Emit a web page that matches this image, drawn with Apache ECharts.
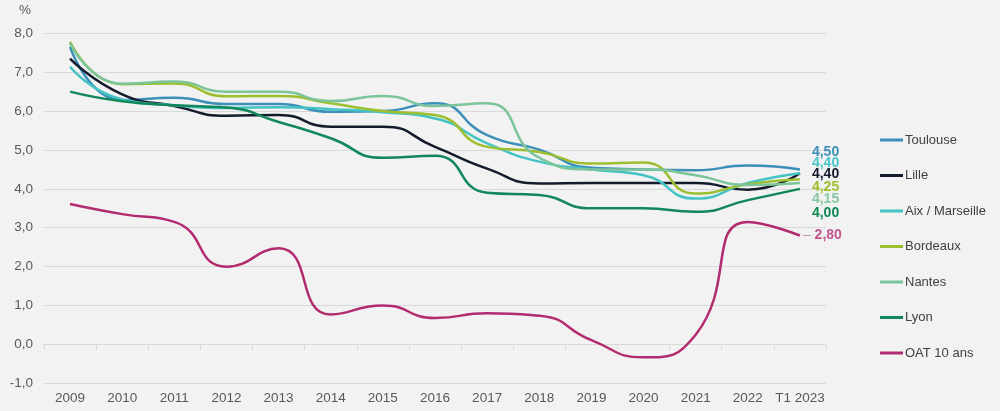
<!DOCTYPE html>
<html>
<head>
<meta charset="utf-8">
<script src="https://cdn.jsdelivr.net/npm/echarts@6/dist/echarts.min.js"></script>
<style>
  html, body { margin: 0; padding: 0; background: #f2f2f2; }
  #chart { width: 1000px; height: 411px; }
</style>
</head>
<body>
<div id="chart"></div>
<script>
const categories = ['2009','2010','2011','2012','2013','2014','2015','2016','2017','2018','2019','2020','2021','2022','T1 2023'];
const yTicks = { min: -1, max: 8, interval: 1 };

const toulouse  = [7.65, 6.28, 6.34, 6.18, 6.18, 5.98, 6.00, 6.20, 5.38, 5.01, 4.54, 4.50, 4.48, 4.60, 4.50];
const lille     = [7.35, 6.43, 6.13, 5.88, 5.90, 5.60, 5.60, 5.08, 4.52, 4.14, 4.15, 4.15, 4.15, 3.98, 4.40];
const aix       = [7.14, 6.30, 6.15, 6.08, 6.10, 6.05, 5.97, 5.81, 5.17, 4.70, 4.50, 4.35, 3.75, 4.15, 4.40];
const bordeaux  = [7.78, 6.69, 6.71, 6.38, 6.39, 6.20, 6.00, 5.90, 5.08, 4.95, 4.65, 4.68, 3.88, 4.12, 4.25];
const nantes    = [7.74, 6.70, 6.76, 6.50, 6.50, 6.26, 6.39, 6.13, 6.20, 4.80, 4.50, 4.50, 4.35, 4.10, 4.15];
const lyon      = [6.50, 6.25, 6.15, 6.09, 5.72, 5.30, 4.80, 4.85, 3.90, 3.84, 3.50, 3.50, 3.41, 3.71, 4.00];
const oat       = [3.61, 3.35, 3.15, 2.00, 2.47, 0.77, 1.00, 0.68, 0.80, 0.74, 0.11, -0.33, 0.25, 3.15, 2.80];

const seriesDefs = [
  { name: 'Toulouse',       values: toulouse, color: '#3b8fb8', labelColor: '#3b8fb8', dy: -17 },
  { name: 'Lille',          values: lille,    color: '#141b2d', labelColor: '#141b2d', dy: 1 },
  { name: 'Aix / Marseille',values: aix,      color: '#45c3c4', labelColor: '#4ac6c6', dy: -10 },
  { name: 'Bordeaux',       values: bordeaux, color: '#9dbf2f', labelColor: '#9dbf2f', dy: 8 },
  { name: 'Nantes',         values: nantes,   color: '#7cc49a', labelColor: '#85c8a2', dy: 16 },
  { name: 'Lyon',           values: lyon,     color: '#12875a', labelColor: '#0f8a55', dy: 24 },
  { name: 'OAT 10 ans',     values: oat,      color: '#b22a6f', labelColor: '#c2558b', dy: 0, dash: true }
];

const fmt2 = v => v.toFixed(2).replace('.', ',');

const series = seriesDefs.map(d => {
  const last = d.values.length - 1;
  return {
    name: d.name,
    type: 'line',
    xAxisIndex: 0,
    smooth: 0.55,
    symbol: 'circle',
    symbolSize: 0,
    showSymbol: true,
    lineStyle: { width: 2.5, color: d.color },
    itemStyle: { color: d.color },
    emphasis: { disabled: true },
    data: d.values.map((v, i) => i === last ? {
      value: v,
      label: {
        show: true,
        position: 'right',
        distance: d.dash ? 3 : 12,
        offset: [0, d.dy],
        fontFamily: 'Liberation Sans, Arial, sans-serif',
        fontSize: 14,
        fontWeight: 'bold',
        color: d.labelColor,
        formatter: p => d.dash ? '{d|–} ' + fmt2(p.value) : fmt2(p.value),
        rich: { d: { color: '#c896ae', fontWeight: 'normal', fontSize: 14 } }
      }
    } : v)
  };
});

const chart = echarts.init(document.getElementById('chart'), null, { renderer: 'canvas' });
chart.setOption({
  backgroundColor: '#f2f2f2',
  animation: false,
  textStyle: { fontFamily: 'Liberation Sans, Arial, sans-serif' },
  grid: { left: 44, right: 174, top: 33.3, bottom: 27.7, containLabel: false, outerBoundsMode: 'none' },
  legend: {
    orient: 'vertical',
    left: 875,
    top: 127,
    icon: 'rect',
    itemWidth: 23,
    itemHeight: 3,
    itemGap: 19.5,
    selectedMode: false,
    textStyle: { color: '#404040', fontSize: 13, lineHeight: 16, padding: [0, 0, 0, -3] },
    data: seriesDefs.map(d => d.name)
  },
  xAxis: [
    {
      type: 'category',
      data: categories,
      position: 'bottom',
      boundaryGap: true,
      axisLine: { show: false, onZero: false },
      axisTick: { show: false },
      axisLabel: { color: '#595959', fontSize: 13.5, margin: 8, interval: 0 },
      splitLine: { show: false }
    },
    {
      type: 'category',
      data: categories,
      position: 'top',
      boundaryGap: true,
      axisLine: { show: true, onZero: true, lineStyle: { color: '#d9d9d9', width: 1 } },
      axisTick: { show: true, inside: true, length: 5, interval: 0, lineStyle: { color: '#d9d9d9' } },
      axisLabel: { show: false },
      splitLine: { show: false }
    }
  ],
  yAxis: {
    type: 'value',
    min: yTicks.min,
    max: yTicks.max,
    interval: yTicks.interval,
    name: '%',
    nameLocation: 'end',
    nameGap: 16,
    nameTextStyle: { color: '#595959', fontSize: 13.5, align: 'right', padding: [0, 13, 0, 0] },
    axisLine: { show: false },
    axisTick: { show: false },
    axisLabel: { color: '#595959', fontSize: 13.5, margin: 11, formatter: v => v.toFixed(1).replace('.', ',') },
    splitLine: { show: true, lineStyle: { color: '#d9d9d9', width: 1 } }
  },
  series: series
});
</script>
</body>
</html>
